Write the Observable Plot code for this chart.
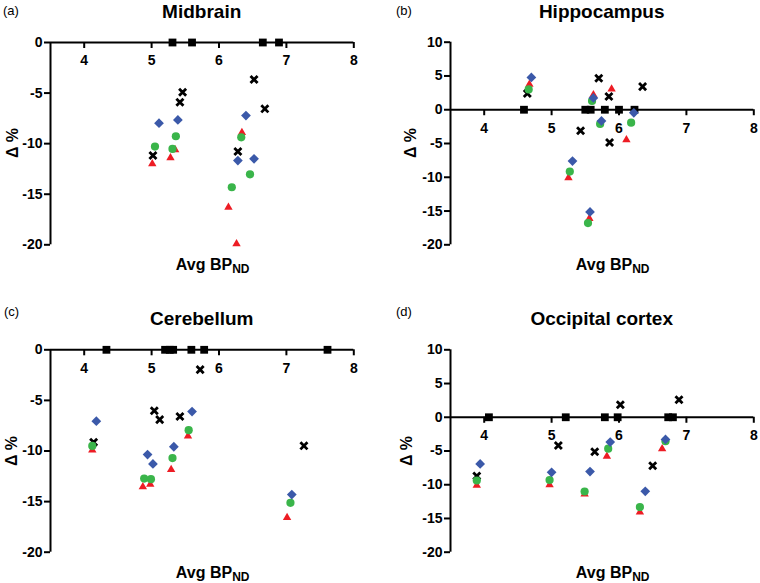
<!DOCTYPE html>
<html><head><meta charset="utf-8">
<script src="https://cdn.jsdelivr.net/npm/d3@7"></script>
<script src="https://cdn.jsdelivr.net/npm/@observablehq/plot@0.6"></script>
<style>
body{margin:0;background:#fff;}
#root{position:relative;width:760px;height:583px;background:#fff;overflow:hidden;}
#root svg{position:absolute;}
</style></head><body><div id="root"></div>
<script>
// ---- tick values & text ----
const xTicks = [4, 5, 6, 7, 8];
const yTicksShort = [0, -5, -10, -15, -20];
const yTicksLong = [10, 5, 0, -5, -10, -15, -20];
const panelTitles = ["Midbrain", "Hippocampus", "Cerebellum", "Occipital cortex"];
const panelLetters = ["(a)", "(b)", "(c)", "(d)"];
const xLabelMain = "Avg BP";
const xLabelSub = "ND";
const yLabel = "Δ %";

// ---- data: [Avg BPND, Δ%] ----
// (a) Midbrain
const midSquares = [5.31, 5.60, 6.65, 6.89];
const midCrosses = [[5.46,-4.92],[5.42,-5.9],[5.02,-11.18],[6.52,-3.66],[6.68,-6.56],[6.28,-10.78]];
const midTriangles = [[5.01,-12.0],[5.28,-11.4],[5.35,-10.6],[6.34,-8.9],[6.14,-16.3],[6.26,-19.9]];
const midCircles = [[5.05,-10.29],[5.36,-9.27],[5.31,-10.52],[6.33,-9.37],[6.19,-14.31],[6.46,-13.03]];
const midDiamonds = [[5.11,-7.98],[5.39,-7.65],[6.40,-7.22],[6.28,-11.67],[6.52,-11.5]];
// (b) Hippocampus
const hipSquares = [4.59, 5.50, 5.58, 5.79, 6.00, 6.23];
const hipCrosses = [[4.64,2.4],[5.70,4.66],[5.85,1.95],[5.43,-3.12],[5.86,-4.85],[6.35,3.42]];
const hipTriangles = [[4.67,3.75],[5.62,2.2],[5.89,3.05],[6.11,-4.45],[5.25,-10.1],[5.56,-16.1]];
const hipCircles = [[4.66,3.0],[5.60,1.3],[5.72,-2.1],[6.18,-1.92],[5.27,-9.16],[5.54,-16.78]];
const hipDiamonds = [[4.70,4.78],[5.62,1.75],[5.74,-1.65],[6.22,-0.46],[5.31,-7.6],[5.57,-15.13]];
// (c) Cerebellum
const cerSquares = [4.33, 5.20, 5.27, 5.32, 5.59, 5.78, 7.61];
const cerCrosses = [[4.14,-9.13],[5.04,-6.03],[5.12,-6.9],[5.42,-6.59],[5.72,-1.96],[7.26,-9.49]];
const cerTriangles = [[4.12,-9.9],[4.87,-13.53],[4.98,-13.3],[5.29,-11.83],[5.54,-8.53],[7.01,-16.57]];
const cerCircles = [[4.12,-9.5],[4.89,-12.72],[4.99,-12.78],[5.31,-10.7],[5.55,-7.94],[7.06,-15.12]];
const cerDiamonds = [[4.18,-7.05],[4.94,-10.35],[5.02,-11.28],[5.33,-9.58],[5.60,-6.1],[7.08,-14.3]];
// (d) Occipital cortex
const occSquares = [4.07, 5.21, 5.79, 5.98, 6.73, 6.80];
const occCrosses = [[3.89,-8.7],[5.10,-4.18],[5.64,-5.1],[6.02,1.85],[6.50,-7.18],[6.89,2.6]];
const occTriangles = [[3.89,-10.1],[4.97,-10.0],[5.49,-11.4],[5.82,-5.8],[6.31,-14.07],[6.64,-4.68]];
const occCircles = [[3.89,-9.37],[4.97,-9.3],[5.49,-11.0],[5.84,-4.65],[6.31,-13.3],[6.69,-3.54]];
const occDiamonds = [[3.94,-6.92],[5.0,-8.16],[5.57,-8.04],[5.87,-3.67],[6.39,-10.97],[6.69,-3.29]];

const BLUE = "#3b59a9", GREEN = "#3ab54a", RED = "#ed1c24", BLACK = "#000";
const FONT = "'Liberation Sans', Arial, Helvetica, sans-serif";
const root = document.getElementById("root");

function panel(p) {
  const h = p.height - p.mt - p.mb;
  const [y0, y1] = p.yDomain;
  const dy = -h * (0 - y0) / (y1 - y0);
  const svg = Plot.plot({
    width: 380, height: p.height,
    marginLeft: p.ml, marginRight: p.mr, marginTop: p.mt, marginBottom: p.mb,
    style: {fontFamily: FONT, fontSize: "14px", fontWeight: "bold", color: "#000", background: "none", overflow: "visible"},
    x: {domain: [3.5, 8], axis: null},
    y: {domain: p.yDomain, axis: null},
    marks: [
      Plot.axisY({ticks: p.yTicks, tickSize: 6, tickPadding: 2, strokeWidth: 2, tickFormat: d => `${d}`, label: null}),
      Plot.axisX({ticks: xTicks, anchor: "bottom", dy, tickSize: 6, tickPadding: 7, strokeWidth: 2, tickFormat: d => `${d}`, label: null}),
      Plot.ruleX([3.5], {strokeWidth: 2, stroke: BLACK}),
      Plot.ruleY([0], {strokeWidth: 2, stroke: BLACK}),
      Plot.dot(p.squares, {x: d => d, y: d => 0, symbol: "square", r: 4.4, fill: BLACK, stroke: null}),
      Plot.dot(p.crosses, {x: d => d[0], y: d => d[1], symbol: "times", r: 3.3, stroke: BLACK, strokeWidth: 2.8}),
      Plot.dot(p.triangles, {x: d => d[0], y: d => d[1], symbol: "triangle2", r: 4, fill: RED, stroke: null}),
      Plot.dot(p.circles, {x: d => d[0], y: d => d[1], symbol: "circle", r: 4.1, fill: GREEN, stroke: null}),
      Plot.dot(p.diamonds, {x: d => d[0], y: d => d[1], symbol: "diamond2", r: 4.4, fill: BLUE, stroke: null})
    ]
  });
  svg.style.left = p.left + "px";
  svg.style.top = p.top + "px";
  svg.style.position = "absolute";
  root.appendChild(svg);
}

panel({left: 0, top: 0, height: 290, ml: 50, mr: 26.7, mt: 42, mb: 45.7, yDomain: [-20, 0], yTicks: yTicksShort,
  squares: midSquares, crosses: midCrosses, triangles: midTriangles, circles: midCircles, diamonds: midDiamonds});
panel({left: 380, top: 0, height: 290, ml: 70, mr: 6.7, mt: 41.7, mb: 45.7, yDomain: [-20, 10], yTicks: yTicksLong,
  squares: hipSquares, crosses: hipCrosses, triangles: hipTriangles, circles: hipCircles, diamonds: hipDiamonds});
panel({left: 0, top: 290, height: 293, ml: 50, mr: 26.7, mt: 59.3, mb: 31.3, yDomain: [-20, 0], yTicks: yTicksShort,
  squares: cerSquares, crosses: cerCrosses, triangles: cerTriangles, circles: cerCircles, diamonds: cerDiamonds});
panel({left: 380, top: 290, height: 293, ml: 70, mr: 6.7, mt: 59.3, mb: 31.3, yDomain: [-20, 10], yTicks: yTicksLong,
  squares: occSquares, crosses: occCrosses, triangles: occTriangles, circles: occCircles, diamonds: occDiamonds});

// ---- annotations overlay ----
const ov = d3.create("svg").attr("width", 760).attr("height", 583)
  .style("left", "0px").style("top", "0px").style("position", "absolute")
  .style("font-family", FONT).style("pointer-events", "none");
const centers = [[201.7, 0], [601.7, 0], [201.7, 290], [601.7, 290]];
const letterPos = [[3, 14.5], [396, 14.5], [4, 315.5], [396, 315.5]];
const yLabPos = [[12.5, 143], [410.5, 143], [11, 451], [406, 451]];
const xLabBase = [269.5, 269.5, 577.5, 577.5];
const titleBase = [18, 18, 325, 325];
panelTitles.forEach((t, i) => {
  ov.append("text").attr("x", centers[i][0]).attr("y", titleBase[i])
    .attr("text-anchor", "middle").attr("font-size", 19).attr("font-weight", "bold").text(t);
  ov.append("text").attr("x", letterPos[i][0]).attr("y", letterPos[i][1])
    .attr("font-size", 13).text(panelLetters[i]);
  ov.append("text").attr("transform", `translate(${yLabPos[i][0]},${yLabPos[i][1]}) rotate(-90)`)
    .attr("text-anchor", "middle").attr("dy", "0.36em").attr("font-size", 16).attr("font-weight", "bold").text(yLabel);
  const xl = ov.append("text").attr("x", centers[i][0] + 11).attr("y", xLabBase[i])
    .attr("text-anchor", "middle").attr("font-size", 16).attr("font-weight", "bold");
  xl.append("tspan").text(xLabelMain);
  xl.append("tspan").attr("font-size", 12).attr("dy", 3).text(xLabelSub);
});
root.appendChild(ov.node());
</script>
</body></html>
